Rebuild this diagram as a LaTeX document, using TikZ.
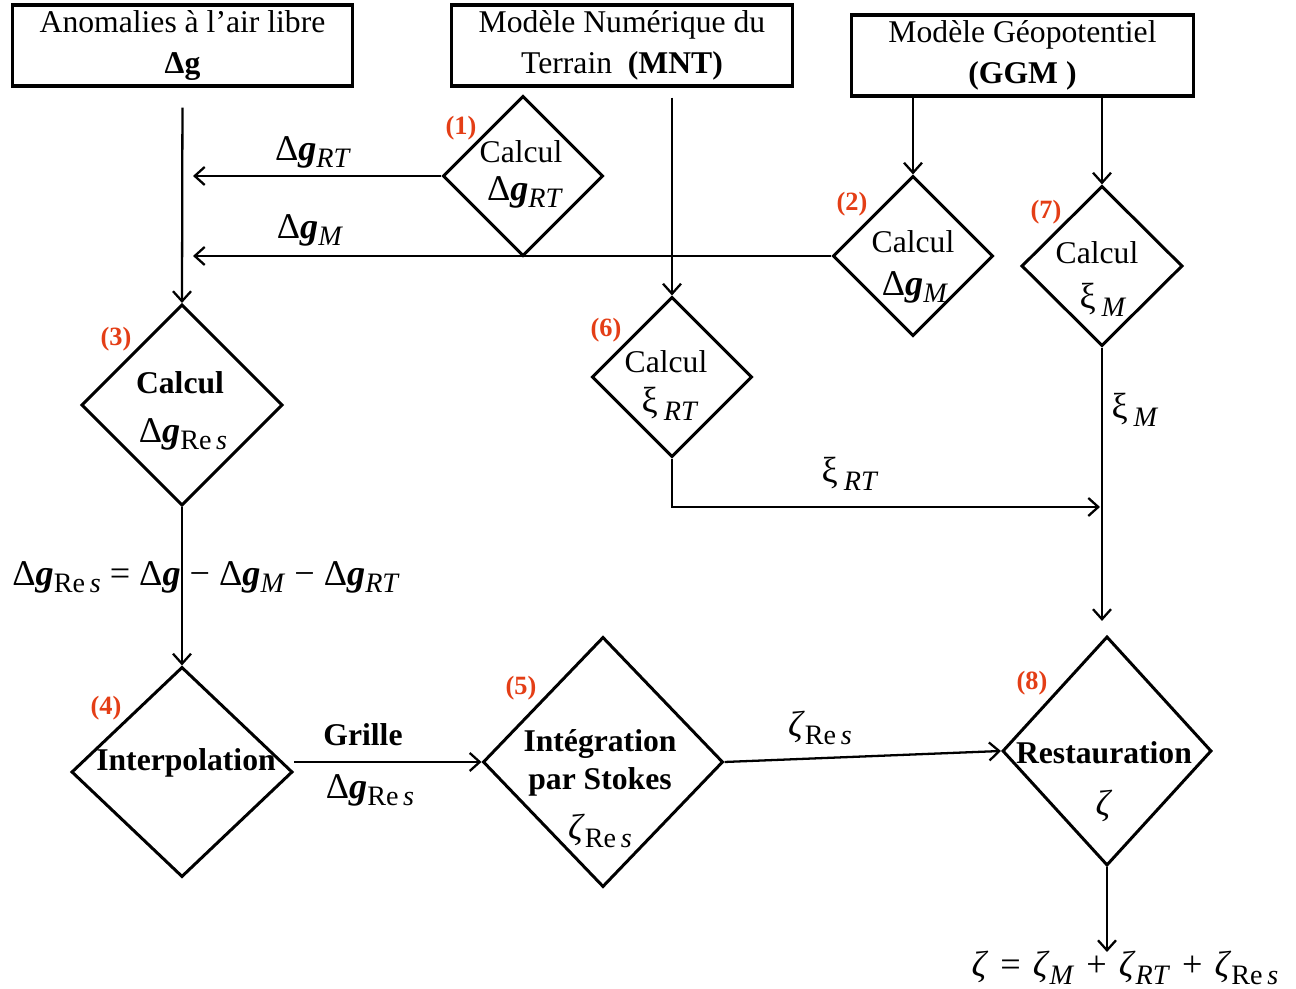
\documentclass[tikz,border=0pt]{standalone}
\usepackage{fontspec}
\setmainfont{Liberation Serif}
\usepackage{xcolor}
\usetikzlibrary{arrows.meta,shapes.geometric}
\definecolor{numred}{RGB}{228,62,22}
\newcommand{\lo}[1]{\raisebox{-0.45ex}{\fontsize{8}{9}\selectfont\textit{#1}}}
\newcommand{\dg}{Δ\textbf{\textit{g}}}
\newcommand{\Res}{\lo{\textup{Re}\,s}}
\newcommand{\mth}[1]{{\fontsize{10.3}{12}\selectfont #1}}
\tikzset{
box/.style = {rectangle, draw=black, line width=0.9pt, minimum width = #1, minimum height=0.81cm, inner sep=0pt, align=center},
box/.default = 3.4cm, % width of the box
dia/.style 2 args = {diamond, draw=black, line width=0.85pt, inner sep=0pt, minimum width=#1, minimum height=#2},
num/.style = {text=numred, font=\fontsize{7.5}{8}\selectfont\bfseries},
arr/.style = {line width=0.65pt, -{Straight Barb[length=1mm,width=1.8mm]}},
}

\begin{document}
\begin{tikzpicture}[x=0.01cm, y=-0.01cm, font=\fontsize{9}{11.5}\selectfont]
  \useasboundingbox (0,0) rectangle (1296,989);

  % Boxes
    \node[box=3.39cm] (anom) at (182.5,45.5) {Anomalies à l’air libre\\ \textbf{Δg}};
    \node[box] (mnt) at (622,45.5) {Modèle Numérique du\\ Terrain \ \textbf{(MNT)}};
    \node[box=3.41cm] (ggm) at (1022.5,55.5) {Modèle Géopotentiel\\ \textbf{(GGM )}};

  % Diamonds
    \node[dia={1.6cm}{1.6cm}] (d1) at (523,176) {};
    \node[dia={1.6cm}{1.6cm}] (d2) at (913,256) {};
    \node[dia={1.61cm}{1.6cm}] (d7) at (1102,266) {};
    \node[dia={1.6cm}{1.6cm}] (d6) at (672,377) {};
    \node[dia={2.01cm}{2.01cm}] (d3) at (182,405) {};
    \node[dia={2.21cm}{2.1cm}] (d4) at (182,772) {};
    \node[dia={2.4cm}{2.5cm}] (d5) at (603,762) {};
    \node[dia={2.09cm}{2.29cm}] (d8) at (1107,751) {};

  % Texts in the diamonds
    \node (t1a) at (521,152) {Calcul};
    \node (t1b) at (525,192) {\mth{\dg\lo{RT}}};
    \node (t2a) at (913,242) {Calcul};
    \node (t2b) at (915,287) {\mth{\dg\lo{M}}};
    \node (t7a) at (1097,253) {Calcul};
    \node (t7b) at (1103,300) {\mth{ξ\,\lo{M}}};
    \node (t6a) at (666,362) {Calcul};
    \node (t6b) at (670,404) {\mth{ξ\,\lo{RT}}};
    \node (t3a) at (180,383) {\textbf{Calcul}};
    \node (t3b) at (183,434) {\mth{\dg\Res}};
    \node (t4) at (186,763) {\textbf{Interpolation}};
    \node[align=center, font=\fontsize{9}{10.8}\selectfont\bfseries] (t5a) at (600,763) {Intégration\\ par Stokes};
    \node (t5b) at (600,831) {\mth{\textit{ζ}\Res}};
    \node (t8a) at (1104,753) {\textbf{Restauration}};
    \node (t8b) at (1104,806) {\mth{\textit{ζ}}};

  % Numbers
    \node[num] (n1) at (461,128) {(1)};
    \node[num] (n2) at (852,204) {(2)};
    \node[num] (n3) at (116,339) {(3)};
    \node[num] (n4) at (106,708) {(4)};
    \node[num] (n5) at (521,688) {(5)};
    \node[num] (n6) at (606,330) {(6)};
    \node[num] (n7) at (1046,212) {(7)};
    \node[num] (n8) at (1032,683) {(8)};

  % Free ends
    \coordinate (rtend) at (193,176);
    \coordinate (mend) at (193,256);
    \coordinate (xirt) at (1100,507);
    \coordinate (zend) at (1107,952);

  % Lines
    \draw[arr, shorten <=0.2cm] (anom.south) -- (d3.north);
    \draw[arr] (d1.west) -- (rtend);
    \draw[arr] (d2.west) -- (mend);
    \draw[arr] (d2.north |- ggm.south) -- (d2.north);
    \draw[arr] (d7.north |- ggm.south) -- (d7.north);
    \draw[arr, shorten <=0.1cm] (d6.north |- mnt.south) -- (d6.north);
    \draw[arr] (d6.south) |- (xirt);
    \draw[arr, shorten >=0.14cm] (d7.south) -- (d7.south |- d8.north);
    \draw[arr] (d3.south) -- (d4.north);
    \draw[arr] (d4.east |- d5.west) -- (d5.west);
    \draw[arr] (d5.east) -- (d8.west);
    \draw[arr] (d8.south) -- (zend);

  % Labels on the lines
    \node (l1) at (313,152) {\mth{\dg\lo{RT}}};
    \node (l2) at (310,230) {\mth{\dg\lo{M}}};
    \node[anchor=west] (l3) at (0,577) {\mth{\dg\Res\ =\ \dg\ −\ \dg\lo{M}\ −\ \dg\lo{RT}}};
    \node (l6) at (850,474) {\mth{ξ\,\lo{RT}}};
    \node (l7) at (1135,410) {\mth{ξ\,\lo{M}}};
    \node (l4a) at (363,735) {\textbf{Grille}};
    \node (l4b) at (370,790) {\mth{\dg\Res}};
    \node (l5) at (820,728) {\mth{\textit{ζ}\Res}};
    \node (l8) at (1125,968) {\mth{\textit{ζ}\,\,=\,\,\textit{ζ}\lo{M}\,\,+\,\,\textit{ζ}\lo{RT}\,\,+\,\,\textit{ζ}\Res}};
  \end{tikzpicture}
\end{document}
